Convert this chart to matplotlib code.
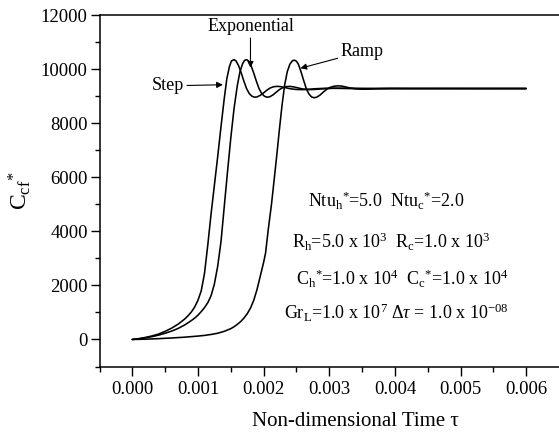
import matplotlib
matplotlib.use("Agg")
import matplotlib.pyplot as plt
import numpy as np

plt.rcParams['font.family'] = ['Liberation Serif', 'DejaVu Serif']
plt.rcParams['mathtext.fontset'] = 'custom'
plt.rcParams['mathtext.rm'] = 'Liberation Serif'
plt.rcParams['mathtext.it'] = 'Liberation Serif:italic'
plt.rcParams['mathtext.bf'] = 'Liberation Serif:bold'

# Data (tau in units of 1e-3)
step_t = [0.00, 0.10, 0.20, 0.30, 0.40, 0.50, 0.60, 0.70, 0.80, 0.85, 0.90, 0.95, 1.00,
          1.05, 1.10, 1.15, 1.20, 1.25, 1.30, 1.35, 1.40, 1.44, 1.48, 1.51, 1.55, 1.58,
          1.62, 1.66, 1.70, 1.74, 1.78, 1.82, 1.86, 1.90, 1.95, 2.00, 2.05, 2.10, 2.15,
          2.20, 2.25, 2.32, 2.40, 2.50, 2.60, 2.70, 2.80, 2.95, 3.10, 3.30, 3.60, 4.00, 6.00]
step_c = [0, 30, 75, 130, 200, 300, 420, 570, 760, 880, 1020, 1200, 1450,
          1800, 2450, 3500, 4650, 5700, 6750, 7850, 8900, 9650, 10100, 10300, 10350, 10300,
          10120, 9850, 9550, 9280, 9100, 9000, 8960, 8970, 9030, 9120, 9220, 9300, 9345,
          9360, 9355, 9320, 9275, 9245, 9240, 9255, 9275, 9290, 9290, 9282, 9278, 9280, 9280]

expo_t = [0.00, 0.10, 0.20, 0.30, 0.40, 0.50, 0.60, 0.70, 0.80, 0.90, 0.95, 1.00, 1.05,
          1.10, 1.15, 1.20, 1.25, 1.30, 1.35, 1.40, 1.45, 1.50, 1.55, 1.60, 1.64, 1.68,
          1.71, 1.74, 1.77, 1.81, 1.85, 1.89, 1.93, 1.97, 2.01, 2.05, 2.09, 2.14, 2.19,
          2.24, 2.29, 2.34, 2.40, 2.46, 2.53, 2.60, 2.70, 2.80, 2.90, 3.05, 3.25, 3.50,
          4.00, 6.00]
expo_c = [0, 25, 60, 105, 160, 230, 310, 410, 540, 700, 790, 900, 1030,
          1180, 1360, 1620, 2050, 2700, 3600, 4900, 6200, 7450, 8550, 9400, 9900, 10200,
          10320, 10350, 10300, 10120, 9850, 9550, 9280, 9100, 9000, 8960, 8970, 9040, 9140,
          9240, 9310, 9350, 9360, 9340, 9300, 9260, 9240, 9250, 9270, 9290, 9290, 9282,
          9280, 9280]

ramp_t = [0.00, 0.20, 0.40, 0.60, 0.80, 1.00, 1.10, 1.20, 1.30, 1.40, 1.50, 1.55, 1.60,
          1.65, 1.70, 1.75, 1.80, 1.85, 1.90, 1.95, 2.00, 2.03, 2.07, 2.12, 2.16, 2.20,
          2.24, 2.28, 2.32, 2.36, 2.40, 2.44, 2.47, 2.50, 2.53, 2.57, 2.61, 2.65, 2.69,
          2.73, 2.77, 2.81, 2.86, 2.91, 2.96, 3.01, 3.07, 3.13, 3.19, 3.25, 3.32, 3.40,
          3.50, 3.60, 3.75, 3.95, 4.20, 6.00]
ramp_c = [0, 10, 30, 55, 85, 125, 150, 185, 230, 300, 400, 470, 560,
          660, 790, 950, 1160, 1450, 1850, 2350, 2850, 3200, 4050, 5000, 5890, 6800,
          7750, 8650, 9400, 9900, 10180, 10310, 10330, 10290, 10180, 9900, 9580, 9280, 9080,
          8970, 8940, 8960, 9040, 9150, 9250, 9320, 9365, 9380, 9370, 9340, 9300, 9270,
          9255, 9260, 9275, 9285, 9282, 9280]

xticks = [0.000, 0.001, 0.002, 0.003, 0.004, 0.005, 0.006]
yticks = [0, 2000, 4000, 6000, 8000, 10000, 12000]

W, H = 559, 436
fig = plt.figure(figsize=(W / 100, H / 100), dpi=100)
ax_l, ax_r = 99.5 / W, 1.0
ax_t, ax_b = 1 - 15 / H, 1 - 366.5 / H
ax = fig.add_axes([ax_l, ax_b, ax_r - ax_l, ax_t - ax_b])

lw = 1.15
for t, c in [(step_t, step_c), (expo_t, expo_c), (ramp_t, ramp_c)]:
    ax.plot(np.array(t) * 1e-3, c, color='black', lw=lw,
            solid_joinstyle='round', solid_capstyle='round')

ax.set_xlim(-0.0005, 0.0065)
ax.set_ylim(-1000, 12000)
ax.set_xticks(xticks)
ax.set_xticklabels([f"{v:.3f}" for v in xticks])
ax.set_yticks(yticks)
ax.set_xticks(np.arange(-0.0005, 0.0065, 0.001), minor=True)
ax.set_yticks(np.arange(-1000, 12000, 2000), minor=True)
ax.tick_params(which='major', direction='out', length=6.5, width=1.0, labelsize=13.5, pad=2)
ax.tick_params(axis='x', which='major', pad=4)
ax.tick_params(which='minor', direction='out', length=3.5, width=1.0)
ax.spines['right'].set_visible(False)
for s in ['left', 'bottom', 'top']:
    ax.spines[s].set_linewidth(1.1)

fig.text(355.5 / W, 1 - 421.7 / H, "Non-dimensional Time \u03c4", ha='center', va='center', fontsize=15)
fig.text(20 / W, 1 - 190 / H, r"C$_{\mathrm{cf}}$$^{*}$", ha='center', va='center', rotation=90, fontsize=17)

arrow = dict(arrowstyle='-|>', color='black', lw=0.8, mutation_scale=9, shrinkA=0, shrinkB=0)
ax.annotate("Step", xy=(0.00138, 9420), xytext=(0.00079, 9380), fontsize=13,
            ha='right', va='center', arrowprops=arrow)
ax.annotate("Exponential", xy=(0.0018, 10050), xytext=(0.0018, 11250), fontsize=13,
            ha='center', va='bottom', arrowprops=arrow)
ax.annotate("Ramp", xy=(0.00256, 10030), xytext=(0.00317, 10640), fontsize=13,
            ha='left', va='center', arrowprops=arrow)

lines = [
    (0.00387, 4889, r"Ntu$_{\mathrm{h}}$$^{*}$=5.0  Ntu$_{\mathrm{c}}$$^{*}$=2.0"),
    (0.00395, 3370, r"R$_{\mathrm{h}}$=5.0 x 10$^{3}$  R$_{\mathrm{c}}$=1.0 x 10$^{3}$"),
    (0.00411, 2000, r"C$_{\mathrm{h}}$$^{*}$=1.0 x 10$^{4}$  C$_{\mathrm{c}}$$^{*}$=1.0 x 10$^{4}$"),
    (0.00402, 741, r"Gr$_{\mathrm{L}}$=1.0 x 10$^{7}$ $\Delta\tau$ = 1.0 x 10$^{\mathrm{-08}}$"),
]
for x, y, s in lines:
    ax.text(x, y, s, ha='center', va='baseline', fontsize=13)

fig.savefig("out.png", dpi=100)
